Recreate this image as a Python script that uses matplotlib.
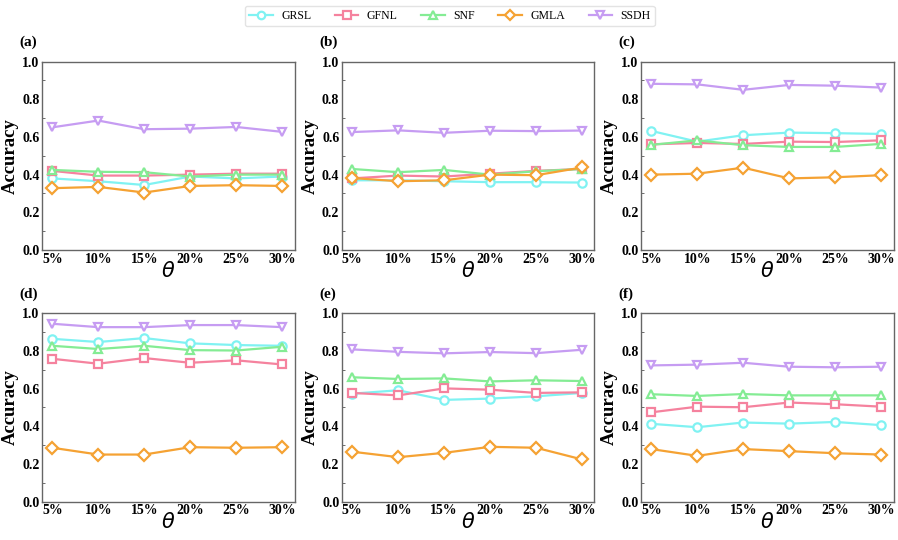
import numpy as np
import matplotlib.pyplot as plt
from matplotlib.ticker import MultipleLocator

plt.rcParams['font.family'] = ['Liberation Serif', 'DejaVu Serif']
plt.rcParams['mathtext.fontset'] = 'dejavusans'

# theta values on the x axis
thetas = ['5%', '10%', '15%', '20%', '25%', '30%']
methods = ['GRSL', 'GFNL', 'SNF', 'GMLA', 'SSDH']
panel_names = ['(a)', '(b)', '(c)', '(d)', '(e)', '(f)']

# accuracy per panel, one list per method
grsl_a = [0.38, 0.365, 0.345, 0.39, 0.38, 0.39]
gfnl_a = [0.42, 0.395, 0.395, 0.40, 0.405, 0.405]
snf_a = [0.425, 0.415, 0.413, 0.39, 0.40, 0.40]
gmla_a = [0.328, 0.335, 0.305, 0.340, 0.344, 0.340]
ssdh_a = [0.651, 0.687, 0.641, 0.644, 0.653, 0.627]

grsl_b = [0.37, 0.37, 0.365, 0.36, 0.36, 0.358]
gfnl_b = [0.38, 0.395, 0.39, 0.405, 0.42, 0.43]
snf_b = [0.43, 0.413, 0.425, 0.40, 0.418, 0.43]
gmla_b = [0.382, 0.365, 0.37, 0.40, 0.397, 0.438]
ssdh_b = [0.626, 0.635, 0.622, 0.633, 0.631, 0.634]

grsl_c = [0.632, 0.575, 0.609, 0.623, 0.62, 0.616]
gfnl_c = [0.561, 0.568, 0.563, 0.575, 0.573, 0.582]
snf_c = [0.558, 0.582, 0.556, 0.547, 0.547, 0.563]
gmla_c = [0.400, 0.405, 0.437, 0.380, 0.386, 0.397]
ssdh_c = [0.882, 0.879, 0.850, 0.876, 0.872, 0.862]

grsl_d = [0.864, 0.847, 0.868, 0.840, 0.831, 0.827]
gfnl_d = [0.758, 0.732, 0.762, 0.737, 0.750, 0.728]
snf_d = [0.827, 0.810, 0.827, 0.804, 0.802, 0.822]
gmla_d = [0.286, 0.250, 0.250, 0.289, 0.286, 0.289]
ssdh_d = [0.944, 0.926, 0.926, 0.937, 0.937, 0.926]

grsl_e = [0.573, 0.591, 0.540, 0.547, 0.559, 0.577]
gfnl_e = [0.577, 0.564, 0.601, 0.594, 0.577, 0.580]
snf_e = [0.660, 0.651, 0.654, 0.638, 0.644, 0.640]
gmla_e = [0.265, 0.236, 0.259, 0.291, 0.286, 0.224]
ssdh_e = [0.808, 0.795, 0.787, 0.794, 0.788, 0.806]

grsl_f = [0.413, 0.395, 0.420, 0.414, 0.423, 0.406]
gfnl_f = [0.474, 0.504, 0.501, 0.526, 0.517, 0.504]
snf_f = [0.570, 0.561, 0.571, 0.564, 0.564, 0.564]
gmla_f = [0.279, 0.243, 0.279, 0.268, 0.257, 0.250]
ssdh_f = [0.723, 0.727, 0.737, 0.716, 0.713, 0.716]

panels = [
    [grsl_a, gfnl_a, snf_a, gmla_a, ssdh_a],
    [grsl_b, gfnl_b, snf_b, gmla_b, ssdh_b],
    [grsl_c, gfnl_c, snf_c, gmla_c, ssdh_c],
    [grsl_d, gfnl_d, snf_d, gmla_d, ssdh_d],
    [grsl_e, gfnl_e, snf_e, gmla_e, ssdh_e],
    [grsl_f, gfnl_f, snf_f, gmla_f, ssdh_f],
]

colors = ['#80F2F2', '#F5829E', '#84EC94', '#F5A233', '#C69CF2']
markers = ['o', 's', '^', 'D', 'v']

fig = plt.figure(figsize=(8.98, 5.4), dpi=100)

lefts = [0.047, 0.381, 0.714]
bottoms = [0.537, 0.071]
w, h = 0.281, 0.349

x = np.arange(len(thetas))
handles = []
for i, data in enumerate(panels):
    ax = fig.add_axes([lefts[i % 3], bottoms[i // 3], w, h])
    for j, vals in enumerate(data):
        ln, = ax.plot(x, vals, color=colors[j], marker=markers[j], ms=6,
                      mfc='white', mec=colors[j], mew=1.6, lw=1.6,
                      label=methods[j])
        if i == 0:
            handles.append(ln)
    ax.set_xlim(-0.22, 5.27)
    ax.set_ylim(0, 1.0)
    ax.set_xticks(x)
    ax.set_xticklabels(thetas)
    ax.yaxis.set_major_locator(MultipleLocator(0.2))
    ax.yaxis.set_minor_locator(MultipleLocator(0.1))
    ax.tick_params(axis='both', which='both', direction='in', labelsize=10,
                   color='#555555', pad=2)
    ax.tick_params(axis='x', length=0)
    ax.tick_params(axis='y', which='major', length=0)
    ax.tick_params(axis='y', which='minor', length=2)
    for lbl in ax.get_xticklabels() + ax.get_yticklabels():
        lbl.set_fontweight('bold')
    for sp in ax.spines.values():
        sp.set_color('#666666')
        sp.set_linewidth(1.0)
    ax.set_ylabel('Accuracy', fontsize=13.5, fontweight='bold', labelpad=2)
    ax.set_xlabel(r'$\theta$', fontsize=15, labelpad=-3)
    ax.text(-0.09, 1.10, panel_names[i], transform=ax.transAxes,
            fontsize=11, fontweight='bold', ha='left', va='center')

fig.legend(handles=handles, labels=methods, loc='upper center',
           bbox_to_anchor=(0.501, 1.0), ncol=5, fontsize=8.5, frameon=True,
           edgecolor='#dddddd', handlelength=2.0, columnspacing=2.0,
           borderpad=0.35, handletextpad=0.7, markerscale=0.9)

fig.savefig('out.png', dpi=100)
